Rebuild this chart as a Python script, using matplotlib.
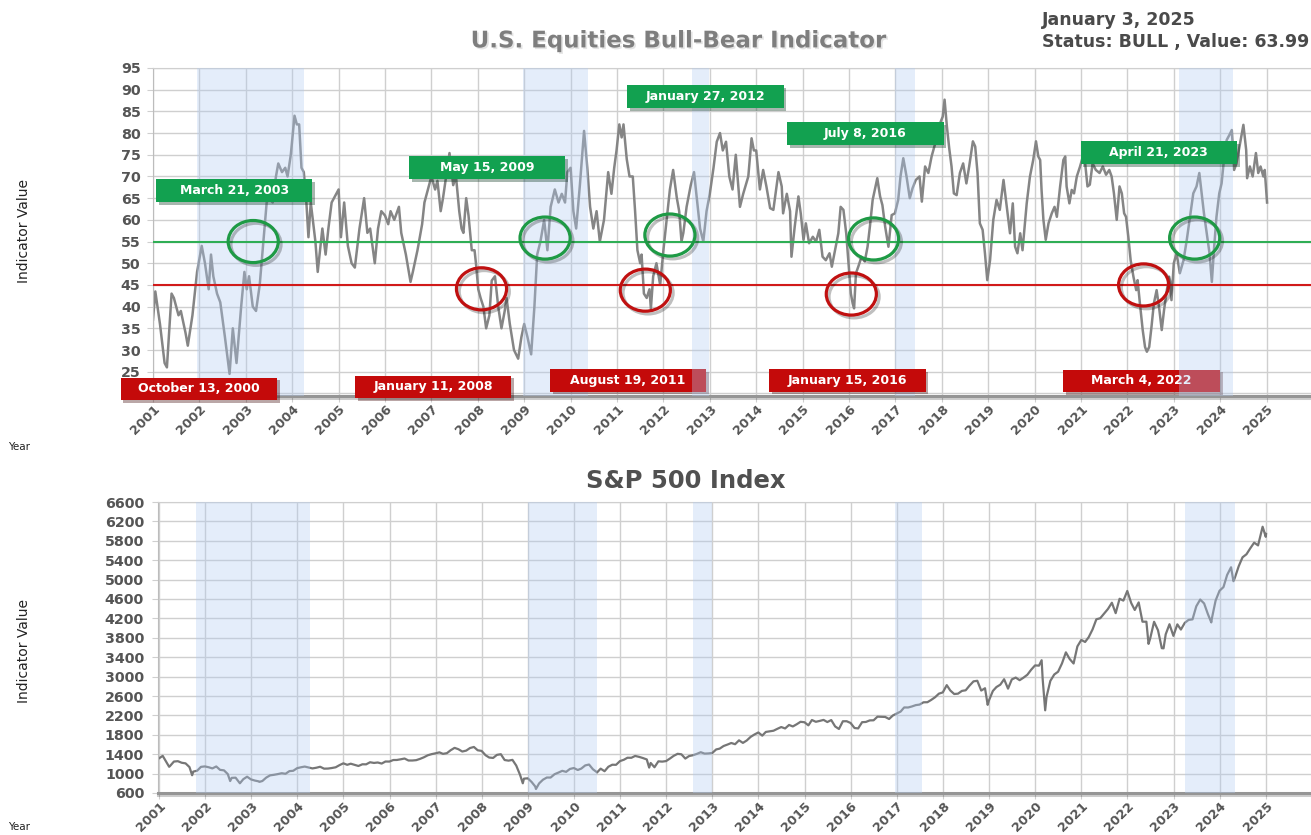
import numpy as np
import pandas as pd
import matplotlib
matplotlib.use("Agg")
import matplotlib.pyplot as plt
import matplotlib.patheffects as pe
from matplotlib.patches import Ellipse, Rectangle

# Bull-Bear indicator (decimal years)
bb_year = [
    2001.00, 2001.05, 2001.15, 2001.25, 2001.30, 2001.40, 2001.45, 2001.55, 2001.60, 2001.70,
    2001.75, 2001.85, 2001.95, 2002.00, 2002.05, 2002.12, 2002.20, 2002.25, 2002.30, 2002.38,
    2002.45, 2002.55, 2002.65, 2002.72, 2002.80, 2002.90, 2002.97, 2003.02, 2003.07, 2003.15,
    2003.22, 2003.30, 2003.38, 2003.45, 2003.50, 2003.58, 2003.65, 2003.70, 2003.78, 2003.85,
    2003.90, 2003.97, 2004.05, 2004.10, 2004.15, 2004.20, 2004.25, 2004.30, 2004.35, 2004.40,
    2004.50, 2004.55, 2004.60, 2004.65, 2004.72, 2004.78, 2004.85, 2005.00, 2005.05, 2005.12,
    2005.20, 2005.28, 2005.35, 2005.45, 2005.55, 2005.62, 2005.68, 2005.78, 2005.85, 2005.92,
    2006.00, 2006.07, 2006.12, 2006.20, 2006.30, 2006.35, 2006.45, 2006.55, 2006.60, 2006.70,
    2006.80, 2006.85, 2006.95, 2007.00, 2007.08, 2007.13, 2007.20, 2007.25, 2007.39, 2007.47,
    2007.53, 2007.60, 2007.65, 2007.69, 2007.75, 2007.80, 2007.87, 2007.93, 2007.96, 2008.01,
    2008.06, 2008.12, 2008.18, 2008.25, 2008.30, 2008.37, 2008.44, 2008.51, 2008.58, 2008.62,
    2008.69, 2008.78, 2008.87, 2008.94, 2009.00, 2009.07, 2009.15, 2009.22, 2009.28, 2009.35,
    2009.43, 2009.50, 2009.57, 2009.66, 2009.74, 2009.81, 2009.88, 2009.93, 2010.00, 2010.06,
    2010.12, 2010.20, 2010.29, 2010.36, 2010.42, 2010.49, 2010.56, 2010.63, 2010.72, 2010.81,
    2010.88, 2010.94, 2010.99, 2011.05, 2011.10, 2011.14, 2011.21, 2011.27, 2011.34, 2011.39,
    2011.44, 2011.50, 2011.53, 2011.58, 2011.64, 2011.70, 2011.73, 2011.78, 2011.85, 2011.93,
    2012.00, 2012.07, 2012.14, 2012.21, 2012.29, 2012.34, 2012.39, 2012.43, 2012.50, 2012.59,
    2012.66, 2012.73, 2012.79, 2012.86, 2012.93, 2013.00, 2013.08, 2013.15, 2013.22, 2013.28,
    2013.35, 2013.42, 2013.49, 2013.56, 2013.65, 2013.72, 2013.83, 2013.90, 2013.95, 2014.00,
    2014.08, 2014.15, 2014.22, 2014.30, 2014.37, 2014.48, 2014.55, 2014.58, 2014.66, 2014.73,
    2014.76, 2014.83, 2014.91, 2014.96, 2015.02, 2015.07, 2015.14, 2015.22, 2015.29, 2015.36,
    2015.43, 2015.50, 2015.58, 2015.63, 2015.70, 2015.77, 2015.82, 2015.88, 2015.94, 2015.99,
    2016.04, 2016.08, 2016.11, 2016.15, 2016.20, 2016.27, 2016.34, 2016.40, 2016.45, 2016.51,
    2016.61, 2016.67, 2016.72, 2016.78, 2016.85, 2016.92, 2016.99, 2017.06, 2017.11, 2017.17,
    2017.24, 2017.31, 2017.37, 2017.44, 2017.52, 2017.57, 2017.64, 2017.71, 2017.78, 2017.85,
    2017.95, 2018.02, 2018.06, 2018.11, 2018.16, 2018.21, 2018.26, 2018.32, 2018.39, 2018.46,
    2018.53, 2018.59, 2018.67, 2018.72, 2018.77, 2018.82, 2018.88, 2018.93, 2018.98, 2019.04,
    2019.11, 2019.18, 2019.25, 2019.33, 2019.40, 2019.47, 2019.53, 2019.58, 2019.63, 2019.69,
    2019.74, 2019.83, 2019.90, 2019.97, 2020.03, 2020.08, 2020.12, 2020.15, 2020.19, 2020.24,
    2020.30, 2020.37, 2020.43, 2020.48, 2020.55, 2020.62, 2020.66, 2020.69, 2020.75, 2020.80,
    2020.85, 2020.91, 2020.98, 2021.04, 2021.09, 2021.14, 2021.19, 2021.25, 2021.32, 2021.40,
    2021.47, 2021.54, 2021.61, 2021.66, 2021.71, 2021.77, 2021.83, 2021.88, 2021.93, 2021.97,
    2022.02, 2022.07, 2022.13, 2022.19, 2022.22, 2022.27, 2022.33, 2022.38, 2022.42, 2022.47,
    2022.52, 2022.57, 2022.63, 2022.69, 2022.74, 2022.79, 2022.85, 2022.90, 2022.95, 2023.00,
    2023.06, 2023.13, 2023.21, 2023.28, 2023.35, 2023.42, 2023.49, 2023.55, 2023.60, 2023.65,
    2023.71, 2023.77, 2023.82, 2023.87, 2023.92, 2023.98, 2024.03, 2024.08, 2024.14, 2024.20,
    2024.25, 2024.30, 2024.35, 2024.43, 2024.50, 2024.56, 2024.58, 2024.64, 2024.70, 2024.77,
    2024.82, 2024.87, 2024.93, 2024.96, 2025.01,
]
bb_value = [
    37, 43.5, 36, 27, 26, 43, 42, 38, 39, 34,
    31, 38, 48, 51, 54, 50, 44, 52, 47, 43,
    41, 33, 24.5, 35, 27, 40, 48, 44, 47, 40,
    39, 45, 55, 64, 65, 64, 70, 73, 71, 72,
    70, 75, 84, 82, 82, 72, 71, 65, 56, 64,
    55, 48, 53, 58, 52, 58, 64, 67, 56, 64,
    54, 50, 49, 58, 65, 57, 58, 50, 58, 62,
    61, 59, 62, 60, 63, 57, 52, 45.7, 48, 53,
    59, 64, 68, 70, 67, 69, 62, 65, 75.4, 68,
    70, 62, 58, 57, 65, 61, 53, 53, 50, 44,
    42, 40, 35, 38, 46, 47, 40, 35, 39, 42,
    36, 30, 28, 33, 36, 33, 29, 40, 52, 55,
    60, 53, 63, 67, 64, 66, 64, 71, 72, 62,
    58, 68, 80.5, 72, 63, 58, 62, 55, 60, 71,
    66, 72, 76, 82, 79, 82, 74, 70, 70, 62,
    53, 50, 52, 43, 42, 44, 39.5, 47, 50, 45,
    53, 60, 67, 71.5, 65, 62, 55, 57, 63, 68,
    71, 64, 58, 55, 62, 66, 72, 78, 80, 76,
    78, 70, 67, 75, 63, 66, 70, 78.8, 76, 76,
    67, 71.5, 67.7, 62.7, 62.3, 71, 67.7, 61.5, 66, 62,
    51.5, 58.4, 65.4, 61.5, 55.4, 59.2, 54.6, 56.1, 55, 57.7,
    51.5, 50.7, 52.3, 49.2, 53, 56.9, 63, 62.3, 56.9, 50,
    43, 40.7, 39.6, 47.7, 49.2, 51.5, 50.4, 53.8, 58.4, 64.6,
    69.6, 65.4, 63.4, 58.4, 53.8, 61.1, 61.5, 64.6, 70, 74.2,
    70, 65, 67.3, 69.2, 70, 64.2, 72.3, 70.8, 74.6, 77.3,
    81.9, 83.8, 87.7, 81.5, 76.5, 72.3, 66.1, 65.7, 70.8, 73,
    68.4, 72.3, 78.1, 76.9, 70.8, 59.2, 57.7, 52.3, 46.1, 50.7,
    60, 64.6, 62.3, 69.2, 63, 56.9, 63.8, 53.8, 52.3, 56.9,
    53, 63.8, 70, 73.8, 78.1, 74.6, 73.8, 66.9, 60, 55.4,
    59.2, 61.5, 63, 60.7, 67.7, 73.8, 74.6, 67.7, 63.8, 66.9,
    66.1, 70, 72.3, 74.6, 73, 67.7, 68.1, 73, 71.5, 70.8,
    72.3, 70.4, 71.5, 70, 66.1, 60, 67.7, 66.1, 61.5, 60.7,
    56.1, 50.7, 46.9, 43.8, 46.1, 40.7, 34.6, 30.7, 29.6, 30.7,
    35.4, 40.7, 43.8, 39.2, 34.6, 39.2, 43.8, 46.9, 41.5, 50,
    52.3, 47.7, 50.7, 55.4, 60.7, 66.1, 67.7, 70.8, 66.1, 61.5,
    56.9, 52.3, 45.7, 53.8, 60.7, 66.1, 68.4, 73.8, 78.4, 79.6,
    80.7, 71.5, 73, 77.7, 81.9, 76.1, 69.6, 72.3, 70, 75.4,
    70.8, 72.3, 70, 71.5, 63.99,
]

# S&P 500 month-end closes, Jan 2001 .. Dec 2024
sp_close = [
    1366, 1240, 1160, 1249, 1256, 1224, 1211, 1134, 1041, 1060, 1139, 1148,
    1130, 1107, 1147, 1077, 1067, 990, 912, 916, 815, 885, 936, 880,
    856, 841, 848, 917, 964, 975, 990, 1008, 996, 1051, 1058, 1112,
    1131, 1145, 1126, 1107, 1121, 1141, 1102, 1104, 1115, 1130, 1174, 1212,
    1181, 1204, 1181, 1157, 1192, 1191, 1234, 1220, 1229, 1207, 1249, 1248,
    1280, 1281, 1295, 1311, 1270, 1270, 1277, 1304, 1336, 1378, 1401, 1418,
    1438, 1407, 1421, 1482, 1531, 1503, 1455, 1474, 1527, 1549, 1481, 1468,
    1379, 1331, 1323, 1386, 1400, 1280, 1267, 1283, 1166, 969, 896, 903,
    826, 735, 798, 873, 919, 919, 987, 1021, 1057, 1036, 1096, 1115,
    1074, 1104, 1169, 1187, 1089, 1031, 1102, 1049, 1141, 1183, 1181, 1258,
    1286, 1327, 1326, 1364, 1345, 1321, 1292, 1219, 1131, 1253, 1247, 1258,
    1312, 1366, 1408, 1398, 1310, 1362, 1379, 1407, 1441, 1412, 1416, 1426,
    1498, 1515, 1569, 1598, 1631, 1606, 1686, 1633, 1682, 1757, 1806, 1848,
    1783, 1859, 1872, 1884, 1924, 1960, 1931, 2003, 1972, 2018, 2068, 2059,
    1995, 2105, 2068, 2086, 2107, 2063, 2104, 1972, 1920, 2079, 2080, 2044,
    1940, 1932, 2060, 2065, 2097, 2099, 2174, 2171, 2168, 2126, 2199, 2239,
    2279, 2364, 2363, 2384, 2412, 2423, 2470, 2472, 2519, 2575, 2648, 2674,
    2824, 2714, 2641, 2648, 2705, 2718, 2816, 2902, 2914, 2712, 2760, 2507,
    2704, 2784, 2834, 2946, 2752, 2942, 2980, 2926, 2977, 3038, 3141, 3231,
    3226, 2954, 2585, 2912, 3044, 3100, 3271, 3500, 3363, 3270, 3622, 3756,
    3714, 3811, 3973, 4181, 4204, 4298, 4395, 4523, 4308, 4605, 4567, 4766,
    4516, 4374, 4530, 4132, 4132, 3785, 4130, 3955, 3586, 3872, 4080, 3840,
    4077, 3970, 4109, 4169, 4180, 4450, 4589, 4508, 4288, 4194, 4568, 4770,
    4846, 5096, 5254, 5036, 5278, 5460, 5522, 5648, 5762, 5705, 6032, 5882,
]
# weekly closes the month-end series misses
sp_extra_date = ["2001-01-05", "2001-03-23", "2001-09-21", "2002-07-19", "2002-10-04",
                 "2003-03-07", "2008-11-21", "2009-03-06", "2010-07-02", "2011-08-19",
                 "2018-12-21", "2020-02-21", "2020-03-20", "2022-06-17", "2022-10-14",
                 "2023-10-27", "2024-04-19", "2024-12-06", "2025-01-03"]
sp_extra_value = [1320, 1140, 966, 847, 800,
                  829, 800, 683, 1022, 1124,
                  2417, 3338, 2305, 3675, 3583,
                  4117, 4967, 6090, 5942]

years = list(range(2001, 2026))
bb_ticks = list(range(20, 100, 5))
sp_ticks = list(range(600, 6601, 400))
bull_level, bear_level = 55, 45

# shaded periods (decimal years)
bb_shade = [(2001.95, 2004.25), (2008.98, 2010.38), (2012.61, 2012.99), (2017.0, 2017.42), (2023.12, 2024.27)]
sp_shade = [(2001.81, 2004.28), (2009.0, 2010.5), (2012.57, 2013.0), (2016.96, 2017.54), (2023.25, 2024.33)]

# signal crossings that get circled
bull_cross_year = [2003.16, 2009.45, 2012.14, 2016.53, 2023.45]
bull_cross_level = [55, 55.8, 56.5, 55.6, 55.8]
bear_cross_year = [2008.08, 2011.61, 2016.05, 2022.35]
bear_cross_level = [44.1, 43.8, 42.9, 45.0]

# signal date labels
bull_labels = ["March 21, 2003", "May 15, 2009", "January 27, 2012", "July 8, 2016", "April 21, 2023"]
bear_labels = ["October 13, 2000", "January 11, 2008", "August 19, 2011", "January 15, 2016", "March 4, 2022"]

# layout: label boxes (lower-left corner, data units), band layering
bull_box_pos = [(2001.065, 64.15), (2006.52, 69.45), (2011.22, 85.8), (2014.67, 77.3), (2020.99, 72.9)]
bear_box_pos = [(2000.30, 18.45), (2005.35, 18.9), (2009.556, 20.4), (2014.28, 20.4), (2020.62, 20.3)]
band_over_boxes = [False, False, True, False, True]
BOX_W, BOX_H = 3.37, 5.2

GREEN_BOX = "#12a150"
RED_BOX = "#c40a0a"
TICK_COL = "#555555"


def dec_year(dates):
    d = pd.to_datetime(pd.Series(dates))
    return (d.dt.year + (d.dt.dayofyear - 1) / 365.25).to_numpy()


sp_x = np.concatenate([dec_year(pd.date_range("2001-01-31", periods=len(sp_close), freq="ME")),
                       dec_year(sp_extra_date)])
sp_y = np.concatenate([sp_close, sp_extra_value]).astype(float)
order = np.argsort(sp_x)
sp_x, sp_y = sp_x[order], sp_y[order]


def style_axes(ax, yticks, ylab_pad):
    ax.set_xticks(years)
    ax.set_yticks(yticks)
    ax.grid(True, color="#cfcfcf", lw=1.0)
    ax.set_axisbelow(True)
    ax.spines["right"].set_visible(False)
    ax.spines["top"].set_color("#cfcfcf")
    ax.spines["left"].set_color("#bcbcbc")
    ax.spines["bottom"].set_color("#959595")
    ax.spines["bottom"].set_linewidth(2.2)
    ax.spines["bottom"].set_path_effects([pe.SimpleLineShadow(offset=(0, -1.5), alpha=0.2), pe.Normal()])
    ax.tick_params(axis="both", length=4, color="#cfcfcf", labelcolor=TICK_COL)
    ax.tick_params(axis="y", pad=ylab_pad, labelsize=10.3)
    ax.tick_params(axis="x", pad=1, labelsize=9.3)
    for lab in ax.get_yticklabels():
        lab.set_fontweight("bold")
    for lab in ax.get_xticklabels():
        lab.set_fontweight("bold")
        lab.set_rotation(45)
        lab.set_ha("right")
        lab.set_rotation_mode("anchor")


def signal_box(ax, pos, text, color, z):
    x0, y0 = pos
    ax.add_patch(Rectangle((x0, y0), BOX_W, BOX_H, facecolor=color, edgecolor="none", zorder=z,
                           clip_on=False,
                           path_effects=[pe.SimplePatchShadow(offset=(2, -2), alpha=0.35), pe.Normal()]))
    ax.text(x0 + BOX_W / 2, y0 + BOX_H / 2, text, color="white", fontsize=9, fontweight="bold",
            ha="center", va="center", zorder=z + 0.1, clip_on=False)


def circle(ax, x, y, color):
    ax.add_patch(Ellipse((x, y), 1.08, 9.7, facecolor="none", edgecolor=color, lw=2.3, zorder=6,
                         path_effects=[pe.SimpleLineShadow(offset=(2, -2), alpha=0.25), pe.Normal()]))


fig = plt.figure(figsize=(13.11, 8.35), dpi=100)
ax1 = fig.add_axes([153 / 1311, 439 / 835, 1158 / 1311, 328 / 835])
ax2 = fig.add_axes([158 / 1311, 42 / 835, 1153 / 1311, 291 / 835])

# --- top: bull-bear indicator ---
ax1.plot(bb_year, bb_value, color="#858585", lw=1.8, zorder=2)
for (a, b), over in zip(bb_shade, band_over_boxes):
    ax1.axvspan(a, b, color="#b2ccf1", alpha=0.35, lw=0, zorder=5.5 if over else 3)
ax1.axhline(bull_level, color="#2fae55", lw=1.5, zorder=5.8)
ax1.axhline(bear_level, color="#d11a1a", lw=1.5, zorder=5.8)
for x, y in zip(bull_cross_year, bull_cross_level):
    circle(ax1, x, y, "#1e9a45")
for x, y in zip(bear_cross_year, bear_cross_level):
    circle(ax1, x, y, "#c01010")
for pos, txt in zip(bull_box_pos, bull_labels):
    signal_box(ax1, pos, txt, GREEN_BOX, 6.5)
for pos, txt in zip(bear_box_pos, bear_labels):
    signal_box(ax1, pos, txt, RED_BOX, 5)
ax1.set_xlim(2001.0, 2025.957)
ax1.set_ylim(19.4, 95)
style_axes(ax1, bb_ticks, 5)

# --- bottom: S&P 500 ---
ax2.plot(sp_x, sp_y, color="#767676", lw=1.6, zorder=2)
for a, b in sp_shade:
    ax2.axvspan(a, b, color="#b2ccf1", alpha=0.35, lw=0, zorder=3)
ax2.set_xlim(2000.98, 2025.98)
ax2.set_ylim(600, 6600)
style_axes(ax2, sp_ticks, 6)

# --- titles and labels ---
fig.text(0.517, 0.951, "U.S. Equities Bull-Bear Indicator", ha="center", va="center", fontsize=16.5,
         fontweight="bold", color="#7e7e7e",
         path_effects=[pe.withSimplePatchShadow(offset=(1.2, -1.2), alpha=0.12)])
fig.text(0.795, 0.976, "January 3, 2025", ha="left", va="center", fontsize=12.5, fontweight="bold",
         color="#4a4a4a")
fig.text(0.795, 0.950, "Status: BULL , Value: 63.99", ha="left", va="center", fontsize=12.5,
         fontweight="bold", color="#4a4a4a")
fig.text(0.523, 0.424, "S&P 500 Index", ha="center", va="center", fontsize=17.5, fontweight="bold",
         color="#505050")
for yc in (0.7234, 0.2204):
    fig.text(0.0183, yc, "Indicator Value", rotation=90, ha="center", va="center", fontsize=10,
             color="#222222")
for yc in (0.4647, 0.0096):
    fig.text(0.006, yc, "Year", ha="left", va="center", fontsize=7.5, color="#222222")

fig.savefig("out.png", dpi=100, facecolor="white")
